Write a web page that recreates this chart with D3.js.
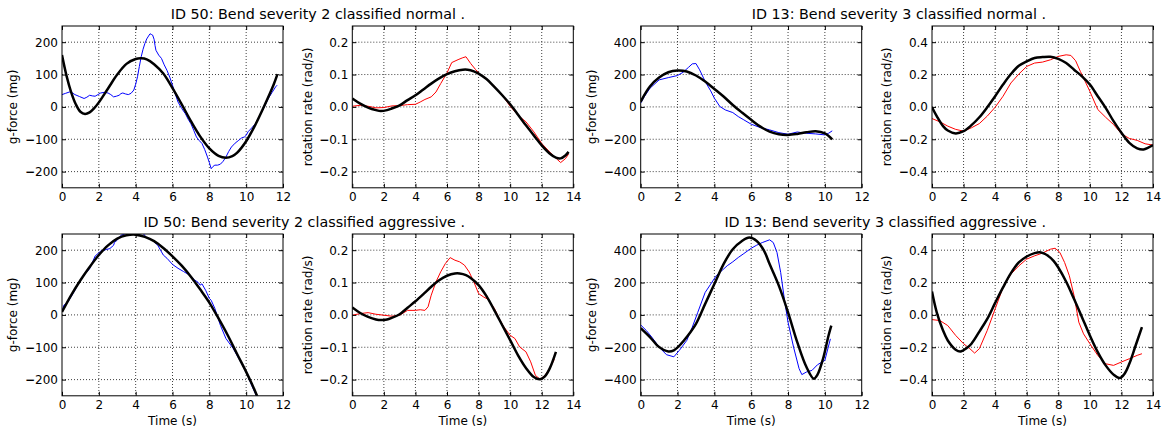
<!DOCTYPE html>
<html>
<head>
<meta charset="utf-8">
<script src="https://cdn.jsdelivr.net/npm/d3@7"></script>
<style>
  html, body { margin: 0; padding: 0; background: #fff; }
  svg { display: block; font-family: "DejaVu Sans", sans-serif; }
</style>
</head>
<body>
<svg id="chart" width="1163" height="431"></svg>
<script>
// ---------------- DATA ----------------
const titles = [
  "ID 50: Bend severity 2 classified normal .",
  "ID 13: Bend severity 3 classified normal .",
  "ID 50: Bend severity 2 classified aggressive .",
  "ID 13: Bend severity 3 classified aggressive ."
];
const yLabelG = "g-force (mg)";
const yLabelR = "rotation rate (rad/s)";
const xLabel = "Time (s)";

const xTicks12 = [0, 2, 4, 6, 8, 10, 12];
const xTicks14 = [0, 2, 4, 6, 8, 10, 12, 14];
const gTicks50 = [-200, -100, 0, 100, 200];
const rTicks50 = [-0.2, -0.1, 0.0, 0.1, 0.2];
const gTicks13 = [-400, -200, 0, 200, 400];
const rTicks13 = [-0.4, -0.2, 0.0, 0.2, 0.4];

// Panel A: ID 50 normal, g-force
const accel50Normal = [[0,38],[0.2,42],[0.4,46],[0.55,44],[0.7,38],[0.95,32],[1.2,26],[1.35,30],[1.5,36],[1.65,34],[1.8,33],[1.95,38],[2.1,43],[2.3,45],[2.5,43],[2.65,38],[2.8,31],[2.95,33],[3.1,36],[3.2,41],[3.3,43],[3.45,40],[3.6,38],[3.75,42],[3.9,52],[4.0,70],[4.1,93],[4.2,125],[4.3,155],[4.4,178],[4.5,196],[4.6,210],[4.7,219],[4.78,226],[4.85,224],[4.92,222],[5.0,209],[5.05,190],[5.1,175],[5.25,160],[5.4,150],[5.55,130],[5.7,113],[5.85,92],[6.0,67],[6.15,40],[6.3,15],[6.5,-5],[6.7,-21],[6.85,-38],[7.0,-52],[7.15,-72],[7.3,-93],[7.45,-104],[7.6,-113],[7.75,-132],[7.9,-155],[8.0,-172],[8.1,-191],[8.2,-184],[8.3,-180],[8.45,-180],[8.6,-177],[8.75,-168],[8.9,-155],[9.05,-138],[9.2,-124],[9.4,-112],[9.6,-103],[9.75,-96],[9.9,-93],[10.0,-88],[10.1,-77],[10.3,-65],[10.5,-52],[10.7,-32],[10.9,-10],[11.05,8],[11.2,26],[11.4,44],[11.6,62],[11.68,67]];
const accel50NormalFit = [[0,160],[0.25,95],[0.5,45],[0.75,8],[1.0,-15],[1.25,-22],[1.5,-17],[1.75,-4],[2.0,14],[2.5,57],[3.0,100],[3.5,133],[4.0,148],[4.3,150],[4.6,147],[5.0,132],[5.5,103],[6.0,58],[6.5,8],[7.0,-44],[7.5,-91],[8.0,-128],[8.5,-151],[8.9,-157],[9.25,-152],[9.5,-142],[10.0,-106],[10.5,-55],[11.0,5],[11.5,70],[11.7,101]];

// Panel B: ID 50 normal, rotation
const gyro50Normal = [[0,0.002],[0.5,0.005],[1,0.002],[1.5,-0.003],[2,-0.002],[2.5,0.003],[3,0.004],[3.5,0.007],[4,0.008],[4.3,0.015],[4.6,0.023],[5,0.031],[5.3,0.046],[5.6,0.072],[6.0,0.105],[6.3,0.137],[6.7,0.146],[7.0,0.152],[7.2,0.155],[7.5,0.134],[7.8,0.116],[8.1,0.101],[8.5,0.085],[9.0,0.064],[9.5,0.036],[10.0,0.002],[10.5,-0.026],[11.0,-0.046],[11.5,-0.077],[12.0,-0.113],[12.5,-0.139],[13.0,-0.163],[13.2,-0.172],[13.5,-0.160],[13.7,-0.146]];
const gyro50NormalFit = [[0,0.026],[0.5,0.010],[1,-0.002],[1.5,-0.010],[1.8,-0.013],[2.2,-0.010],[2.5,-0.005],[3,0.005],[3.5,0.021],[4,0.036],[4.5,0.054],[5,0.072],[5.5,0.088],[6,0.101],[6.5,0.110],[7.0,0.115],[7.3,0.115],[7.7,0.110],[8,0.103],[8.5,0.086],[9,0.062],[9.5,0.036],[10,0.008],[10.5,-0.024],[11,-0.057],[11.5,-0.088],[12,-0.119],[12.5,-0.144],[12.9,-0.157],[13.2,-0.159],[13.5,-0.150],[13.7,-0.139]];

// Panel C: ID 13 normal, g-force
const accel13Normal = [[0,23],[0.2,64],[0.5,115],[1.0,167],[1.5,181],[2.0,194],[2.3,214],[2.6,245],[2.8,266],[3.0,268],[3.2,229],[3.5,157],[3.8,99],[4.0,54],[4.3,2],[4.6,-19],[5.0,-35],[5.3,-60],[5.6,-80],[6.0,-107],[6.5,-128],[7.0,-142],[7.5,-159],[8.0,-169],[8.5,-155],[9.0,-163],[9.5,-167],[10.0,-173],[10.2,-163],[10.4,-148]];
const accel13NormalFit = [[0,33],[0.5,126],[1.0,181],[1.5,214],[2.0,225],[2.5,219],[3.0,194],[3.5,157],[4.0,111],[4.5,64],[5.0,12],[5.5,-35],[6.0,-80],[6.5,-122],[7.0,-153],[7.5,-169],[8.0,-173],[8.5,-167],[9.0,-157],[9.5,-150],[10.0,-163],[10.4,-200]];

// Panel D: ID 13 normal, rotation
const gyro13Normal = [[0,-0.072],[0.5,-0.092],[1,-0.119],[1.5,-0.139],[2,-0.150],[2.5,-0.129],[3,-0.103],[3.5,-0.057],[4,-0.002],[4.5,0.066],[5,0.148],[5.5,0.203],[6,0.250],[6.5,0.271],[7,0.277],[7.5,0.291],[8,0.312],[8.5,0.322],[8.8,0.318],[9.1,0.285],[9.4,0.219],[9.7,0.158],[10,0.096],[10.5,-0.016],[11,-0.064],[11.5,-0.109],[12,-0.166],[12.5,-0.195],[13,-0.207],[13.5,-0.228],[14,-0.236]];
const gyro13NormalFit = [[0,-0.002],[0.3,-0.057],[0.7,-0.119],[1.0,-0.146],[1.5,-0.164],[2.0,-0.150],[2.5,-0.113],[3.0,-0.064],[3.5,-0.002],[4.0,0.066],[4.5,0.138],[5.0,0.203],[5.5,0.254],[6.0,0.281],[6.5,0.302],[7.0,0.308],[7.5,0.310],[8.0,0.297],[8.5,0.271],[9.0,0.230],[9.5,0.189],[10.0,0.138],[10.5,0.066],[11.0,-0.006],[11.5,-0.088],[12.0,-0.160],[12.5,-0.222],[13.0,-0.256],[13.4,-0.263],[13.7,-0.252],[14,-0.236]];

// Panel E: ID 50 aggressive, g-force
const accel50Aggr = [[0,9],[0.1,30],[0.3,38],[0.6,66],[0.9,97],[1.2,123],[1.5,143],[1.8,182],[2.1,197],[2.4,202],[2.6,205],[2.8,215],[2.85,224],[3.0,231],[3.2,246],[3.5,252],[3.8,252],[4.1,250],[4.4,252],[4.6,238],[4.9,231],[5.2,215],[5.5,185],[5.7,175],[6.0,156],[6.3,144],[6.6,134],[6.9,124],[7.2,108],[7.4,100],[7.5,92],[7.6,96],[7.8,76],[8.0,51],[8.1,45],[8.3,20],[8.6,-32],[8.9,-73],[9.3,-104],[9.6,-135],[10.0,-176],[10.3,-218],[10.5,-243],[10.6,-256]];
const accel50AggrFit = [[0,9],[0.5,61],[1.0,107],[1.5,148],[2.0,185],[2.5,215],[3.0,236],[3.5,246],[4.0,248],[4.5,241],[5.0,228],[5.5,207],[6.0,181],[6.5,152],[7.0,118],[7.5,79],[8.0,38],[8.5,-11],[9.0,-63],[9.5,-120],[10.0,-176],[10.3,-212],[10.65,-258]];

// Panel F: ID 50 aggressive, rotation
const gyro50Aggr = [[0,-0.001],[0.5,0.004],[1.0,0.007],[1.5,0.002],[2.0,-0.001],[2.5,-0.004],[3.0,-0.001],[3.5,0.014],[4.0,0.014],[4.3,0.016],[4.6,0.014],[4.8,0.025],[5.0,0.061],[5.3,0.102],[5.6,0.133],[5.9,0.159],[6.2,0.177],[6.5,0.169],[6.8,0.164],[7.1,0.154],[7.4,0.133],[7.7,0.102],[8.0,0.066],[8.3,0.056],[8.6,0.048],[9.0,0.020],[9.3,-0.011],[9.6,-0.037],[10.0,-0.063],[10.3,-0.073],[10.6,-0.099],[11.0,-0.114],[11.3,-0.145],[11.6,-0.187],[11.9,-0.199],[12.2,-0.187],[12.5,-0.166],[12.8,-0.137]];
const gyro50AggrFit = [[0,0.023],[0.5,0.006],[1.0,-0.006],[1.5,-0.014],[1.8,-0.016],[2.2,-0.014],[2.5,-0.009],[3.0,0.002],[3.5,0.022],[4.0,0.042],[4.5,0.064],[5.0,0.087],[5.5,0.107],[6.0,0.121],[6.5,0.128],[6.8,0.128],[7.2,0.123],[7.5,0.114],[8.0,0.092],[8.5,0.058],[9.0,0.014],[9.5,-0.032],[10.0,-0.078],[10.5,-0.125],[11.0,-0.164],[11.5,-0.192],[11.9,-0.199],[12.2,-0.190],[12.5,-0.166],[12.9,-0.114]];

// Panel G: ID 13 aggressive, g-force
const accel13Aggr = [[0,-62],[0.3,-96],[0.6,-137],[1.0,-199],[1.4,-246],[1.8,-259],[2.1,-219],[2.5,-158],[2.8,-76],[3.1,16],[3.5,139],[3.8,190],[4.1,242],[4.4,273],[4.7,304],[5.0,328],[5.3,355],[5.6,379],[6.0,412],[6.3,431],[6.6,447],[7.0,464],[7.2,447],[7.4,386],[7.6,263],[7.8,98],[8.0,-45],[8.3,-199],[8.6,-332],[8.75,-369],[9.0,-353],[9.3,-343],[9.6,-308],[10.0,-281],[10.3,-148]];
const accel13AggrFit = [[0,-82],[0.5,-137],[1.0,-199],[1.5,-226],[1.8,-219],[2.2,-178],[2.5,-137],[3.0,-55],[3.5,68],[4.0,191],[4.5,314],[5.0,406],[5.5,457],[5.9,478],[6.3,457],[6.7,396],[7.0,314],[7.5,181],[8.0,16],[8.5,-168],[9.0,-322],[9.4,-394],[9.6,-369],[9.9,-271],[10.2,-127],[10.35,-66]];

// Panel H: ID 13 aggressive, rotation
const gyro13Aggr = [[0,-0.029],[0.5,-0.035],[1.0,-0.066],[1.5,-0.127],[2.0,-0.178],[2.4,-0.209],[2.7,-0.236],[3.0,-0.209],[3.5,-0.096],[4.0,0.037],[4.5,0.170],[5.0,0.252],[5.5,0.303],[6.0,0.345],[6.5,0.365],[7.0,0.382],[7.5,0.406],[7.8,0.412],[8.1,0.386],[8.4,0.324],[8.7,0.242],[9.0,0.119],[9.3,-0.045],[9.6,-0.117],[10.0,-0.178],[10.5,-0.250],[11.0,-0.302],[11.5,-0.312],[12.0,-0.291],[12.5,-0.271],[13.0,-0.250],[13.3,-0.240]];
const gyro13AggrFit = [[0,0.144],[0.3,0.016],[0.7,-0.096],[1.0,-0.158],[1.5,-0.215],[1.8,-0.226],[2.2,-0.205],[2.5,-0.178],[3.0,-0.103],[3.5,-0.025],[4.0,0.074],[4.5,0.170],[5.0,0.258],[5.5,0.324],[6.0,0.361],[6.5,0.382],[6.9,0.386],[7.3,0.369],[7.7,0.334],[8.0,0.293],[8.5,0.205],[9.0,0.098],[9.5,-0.014],[10.0,-0.127],[10.5,-0.230],[11.0,-0.312],[11.5,-0.369],[11.9,-0.390],[12.2,-0.363],[12.5,-0.302],[12.9,-0.189],[13.3,-0.076]];

// ---------------- LAYOUT ----------------
const colLeft = [62, 352.3, 640.7, 932];
const rowTop = [26, 234];
const pw = 221, ph = 161.8;
const ylabOffset = [45.5, 40, 44.5, 41];

const panels = [
  {r:0,c:0, xmax:12, ymax:250, xt:xTicks12, yt:gTicks50, dec:0, lab:yLabelG, raw:accel50Normal, fit:accel50NormalFit, col:"#0000ff"},
  {r:0,c:1, xmax:14, ymax:0.25, xt:xTicks14, yt:rTicks50, dec:1, lab:yLabelR, raw:gyro50Normal, fit:gyro50NormalFit, col:"#ff0000"},
  {r:0,c:2, xmax:12, ymax:500, xt:xTicks12, yt:gTicks13, dec:0, lab:yLabelG, raw:accel13Normal, fit:accel13NormalFit, col:"#0000ff"},
  {r:0,c:3, xmax:14, ymax:0.5, xt:xTicks14, yt:rTicks13, dec:1, lab:yLabelR, raw:gyro13Normal, fit:gyro13NormalFit, col:"#ff0000"},
  {r:1,c:0, xmax:12, ymax:250, xt:xTicks12, yt:gTicks50, dec:0, lab:yLabelG, raw:accel50Aggr, fit:accel50AggrFit, col:"#0000ff"},
  {r:1,c:1, xmax:14, ymax:0.25, xt:xTicks14, yt:rTicks50, dec:1, lab:yLabelR, raw:gyro50Aggr, fit:gyro50AggrFit, col:"#ff0000"},
  {r:1,c:2, xmax:12, ymax:500, xt:xTicks12, yt:gTicks13, dec:0, lab:yLabelG, raw:accel13Aggr, fit:accel13AggrFit, col:"#0000ff"},
  {r:1,c:3, xmax:14, ymax:0.5, xt:xTicks14, yt:rTicks13, dec:1, lab:yLabelR, raw:gyro13Aggr, fit:gyro13AggrFit, col:"#ff0000"}
];

const svg = d3.select("#chart");
const FS = 12;

function setMinusLabels(sel) {
  sel.selectAll(".tick text").each(function(d) {
    const t = d3.select(this);
    const s = t.text();
    if (s.startsWith("\u2212")) {
      t.text(null);
      t.append("tspan").attr("font-weight", "bold").text("\u2212");
      t.append("tspan").text(s.slice(1));
    }
  });
}

panels.forEach((p, i) => {
  const x0 = colLeft[p.c], y0 = rowTop[p.r];
  const g = svg.append("g").attr("transform", `translate(${x0},${y0})`);
  const x = d3.scaleLinear().domain([0, p.xmax]).range([0, pw]);
  const y = d3.scaleLinear().domain([-p.ymax, p.ymax]).range([ph, 0]);
  const fmt = v => {
    const s = p.dec ? Math.abs(v).toFixed(1) : String(Math.abs(v));
    return (v < 0 ? "\u2212" : "") + s;
  };

  // grid
  const grid = g.append("g").attr("stroke", "#000").attr("stroke-width", 1)
    .attr("stroke-dasharray", "1,2").attr("opacity", 0.75);
  p.xt.filter(v => v > 0 && v < p.xmax).forEach(v => {
    grid.append("line").attr("x1", x(v)).attr("x2", x(v)).attr("y1", 0).attr("y2", ph);
  });
  p.yt.forEach(v => {
    grid.append("line").attr("x1", 0).attr("x2", pw).attr("y1", y(v)).attr("y2", y(v));
  });

  // data
  const clipId = "clip" + i;
  g.append("clipPath").attr("id", clipId).append("rect").attr("width", pw).attr("height", ph);
  const plot = g.append("g").attr("clip-path", `url(#${clipId})`);
  const lineRaw = d3.line().x(d => x(d[0])).y(d => y(d[1]));
  const lineFit = d3.line().x(d => x(d[0])).y(d => y(d[1])).curve(d3.curveCatmullRom.alpha(0.5));
  plot.append("path").datum(p.raw).attr("d", lineRaw)
    .attr("fill", "none").attr("stroke", p.col).attr("stroke-width", 1);
  plot.append("path").datum(p.fit).attr("d", lineFit)
    .attr("fill", "none").attr("stroke", "#000").attr("stroke-width", 2.5)
    .attr("stroke-linejoin", "round");

  // axes (inward ticks)
  const axL = g.append("g").call(d3.axisLeft(y).tickValues(p.yt).tickFormat(fmt)
    .tickSizeInner(-4).tickSizeOuter(0).tickPadding(4));
  const axR = g.append("g").attr("transform", `translate(${pw},0)`)
    .call(d3.axisRight(y).tickValues(p.yt).tickFormat("").tickSizeInner(-4).tickSizeOuter(0));
  const axB = g.append("g").attr("transform", `translate(0,${ph})`)
    .call(d3.axisBottom(x).tickValues(p.xt).tickFormat(d3.format("d"))
      .tickSizeInner(-4).tickSizeOuter(0).tickPadding(5));
  const axT = g.append("g")
    .call(d3.axisTop(x).tickValues(p.xt).tickFormat("").tickSizeInner(-4).tickSizeOuter(0));
  [axL, axR, axB, axT].forEach(a => {
    a.select(".domain").remove();
    a.attr("font-family", "DejaVu Sans, sans-serif").attr("font-size", FS);
    a.selectAll(".tick line").attr("stroke", "#000").attr("stroke-width", 1);
    a.selectAll(".tick text").attr("fill", "#000");
  });
  setMinusLabels(axL);

  // frame
  g.append("rect").attr("width", pw).attr("height", ph)
    .attr("fill", "none").attr("stroke", "#000").attr("stroke-width", 1);

  // y label
  g.append("text")
    .attr("transform", `translate(${-ylabOffset[p.c]},${ph / 2}) rotate(-90)`)
    .attr("text-anchor", "middle").attr("font-size", FS).attr("fill", "#000")
    .text(p.lab);

  // x label
  if (p.r === 1) {
    g.append("text").attr("x", pw / 2).attr("y", ph + 29.5)
      .attr("text-anchor", "middle").attr("font-size", FS).attr("fill", "#000")
      .text(xLabel);
  }
});

// titles
const titlePos = [[465, 19], [1046, 19], [465, 227], [1046, 227]];
titles.forEach((t, i) => {
  svg.append("text").attr("x", titlePos[i][0]).attr("y", titlePos[i][1])
    .attr("text-anchor", "end").attr("font-size", 14.3).attr("fill", "#000")
    .text(t);
});
</script>
</body>
</html>
